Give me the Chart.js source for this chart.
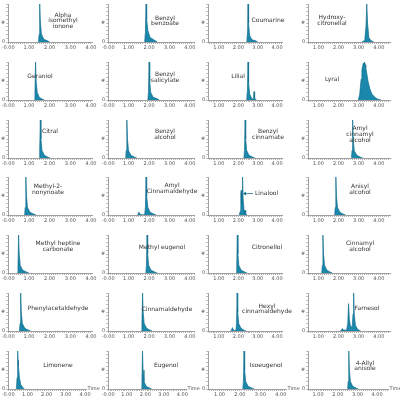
<!DOCTYPE html>
<html>
<head>
<meta charset="utf-8">
<script src="https://cdn.jsdelivr.net/npm/chart.js@4.4.0/dist/chart.umd.min.js"></script>
<style>
body { margin: 0; background: #fff; overflow: hidden; }
#grid { position: relative; width: 400px; height: 397px; overflow: hidden; }
#grid canvas { position: absolute; }
</style>
</head>
<body>
<div id="grid"></div>
<script>
// compound names, one panel each (row by row, 4 per row)
var labelLines = [
  ['Alpha', 'isomethyl', 'ionone'], ['Benzyl', 'benzoate'], ['Coumarine'], ['Hydroxy-', 'citronellal'],
  ['Geraniol'], ['Benzyl', 'salicylate'], ['Lilial'], ['Lyral'],
  ['Citral'], ['Benzyl', 'alcohol'], ['Benzyl', 'cinnamate'], ['Amyl', 'cinnamyl', 'alcohol'],
  ['Methyl-2-', 'nonynoate'], ['Amyl', 'Cinnamaldehyde'], ['Linalool'], ['Anisyl', 'alcohol'],
  ['Methyl heptine', 'carbonate'], ['Methyl eugenol'], ['Citronellol'], ['Cinnamyl', 'alcohol'],
  ['Phenylacetaldehyde'], ['Cinnamaldehyde'], ['Hexyl', 'cinnamaldehyde'], ['Farnesol'],
  ['Limonene'], ['Eugenol'], ['Isoeugenol'], ['4-Allyl', 'anisole']
];

// retention times (min) of each trace point
var peakTimes = [
  [1.46, 1.49, 1.52, 1.55, 1.6, 1.72, 1.9, 2.0],
  [1.78, 1.82, 1.85, 1.88, 1.94, 2.05, 2.25, 2.4],
  [2.44, 2.48, 2.5, 2.53, 2.58, 2.7, 2.9, 3.0],
  [3.15, 3.3, 3.36, 3.4, 3.44, 3.5, 3.6, 3.75],
  [1.26, 1.29, 1.32, 1.35, 1.4, 1.5, 1.65, 1.75],
  [1.94, 1.97, 2.0, 2.03, 2.08, 2.2, 2.4, 2.5],
  [2.43, 2.47, 2.5, 2.53, 2.59, 2.68, 2.76, 2.79, 2.81, 2.84, 2.92],
  [2.98, 3.05, 3.12, 3.16, 3.2, 3.23, 3.26, 3.29, 3.32, 3.35, 3.4, 3.46, 3.55, 3.65, 3.8, 3.95, 4.1],
  [1.49, 1.52, 1.55, 1.58, 1.63, 1.75, 1.92, 2.02],
  [0.85, 0.88, 0.91, 0.94, 0.99, 1.11, 1.3, 1.4],
  [2.29, 2.32, 2.35, 2.38, 2.43, 2.55, 2.75, 2.85],
  [2.64, 2.67, 2.7, 2.73, 2.78, 2.9, 3.1, 3.2],
  [0.79, 0.82, 0.85, 0.88, 0.93, 1.05, 1.25, 1.35],
  [1.44, 1.48, 1.5, 1.53, 1.6, 1.78, 1.82, 1.85, 1.88, 1.94, 2.05, 2.25, 2.35],
  [2.05, 2.1, 2.13, 2.15, 2.17, 2.2, 2.22, 2.25, 2.3, 2.33, 2.35, 2.38, 2.45],
  [1.81, 1.84, 1.87, 1.9, 1.95, 2.07, 2.25, 2.35],
  [0.44, 0.47, 0.5, 0.53, 0.58, 0.7, 0.9, 1.0],
  [1.84, 1.87, 1.9, 1.93, 1.98, 2.1, 2.3, 2.4],
  [1.89, 1.92, 1.95, 1.98, 2.03, 2.15, 2.35, 2.45],
  [1.17, 1.2, 1.23, 1.26, 1.31, 1.43, 1.6, 1.7],
  [0.54, 0.57, 0.6, 0.63, 0.68, 0.8, 0.98, 1.08],
  [1.62, 1.65, 1.68, 1.71, 1.76, 1.88, 2.05, 2.15],
  [1.62, 1.67, 1.7, 1.73, 1.8, 1.88, 1.91, 1.94, 1.97, 2.02, 2.14, 2.3, 2.4],
  [2.1, 2.16, 2.18, 2.2, 2.4, 2.46, 2.5, 2.54, 2.6, 2.68, 2.72, 2.75, 2.78, 2.84, 2.95, 3.1],
  [0.42, 0.46, 0.49, 0.51, 0.53, 0.58, 0.65, 0.75, 0.85],
  [1.79, 1.82, 1.85, 1.88, 1.93, 2.05, 2.25, 2.35],
  [2.14, 2.17, 2.2, 2.23, 2.28, 2.4, 2.6, 2.7],
  [2.5, 2.53, 2.56, 2.59, 2.64, 2.76, 2.95, 3.05]
];

// relative signal at those times
var peakHeights = [
  [0, 0.2, 1, 0.55, 0.22, 0.07, 0.03, 0],
  [0, 0.25, 1, 0.6, 0.3, 0.12, 0.05, 0],
  [0, 0.3, 1, 0.5, 0.18, 0.06, 0.03, 0],
  [0, 0.04, 0.4, 1, 0.5, 0.12, 0.04, 0],
  [0, 0.2, 1, 0.5, 0.2, 0.07, 0.02, 0],
  [0, 0.2, 1, 0.5, 0.2, 0.07, 0.03, 0],
  [0, 0.25, 1, 0.45, 0.15, 0.05, 0.02, 0.1, 0.22, 0.05, 0],
  [0, 0.15, 0.55, 0.8, 0.9, 0.97, 0.92, 1, 0.93, 0.85, 0.7, 0.5, 0.3, 0.16, 0.07, 0.02, 0],
  [0, 0.2, 1, 0.5, 0.2, 0.07, 0.02, 0],
  [0, 0.2, 1, 0.5, 0.2, 0.07, 0.02, 0],
  [0, 0.2, 1, 0.5, 0.2, 0.07, 0.02, 0],
  [0, 0.2, 1, 0.5, 0.2, 0.07, 0.02, 0],
  [0, 0.2, 1, 0.5, 0.2, 0.07, 0.02, 0],
  [0, 0.05, 0.08, 0.04, 0.01, 0, 0.2, 1, 0.5, 0.2, 0.07, 0.02, 0],
  [0, 0.1, 0.55, 0.65, 0.3, 0.6, 1, 0.4, 0.12, 0.05, 0.12, 0.03, 0],
  [0, 0.2, 1, 0.5, 0.2, 0.07, 0.02, 0],
  [0, 0.2, 1, 0.5, 0.2, 0.07, 0.02, 0],
  [0, 0.2, 1, 0.5, 0.2, 0.07, 0.02, 0],
  [0, 0.2, 1, 0.5, 0.2, 0.07, 0.02, 0],
  [0, 0.2, 1, 0.5, 0.2, 0.07, 0.02, 0],
  [0, 0.2, 1, 0.5, 0.2, 0.07, 0.02, 0],
  [0, 0.25, 1, 0.5, 0.2, 0.07, 0.02, 0],
  [0, 0.05, 0.09, 0.04, 0.01, 0.02, 0.2, 1, 0.5, 0.2, 0.07, 0.02, 0],
  [0, 0.04, 0.06, 0.03, 0.02, 0.2, 0.72, 0.3, 0.1, 0.12, 0.45, 1, 0.45, 0.15, 0.04, 0],
  [0, 0.3, 1, 0.75, 0.6, 0.3, 0.12, 0.04, 0],
  [0, 0.2, 1, 0.5, 0.2, 0.07, 0.02, 0],
  [0, 0.2, 1, 0.5, 0.2, 0.07, 0.02, 0],
  [0, 0.2, 1, 0.5, 0.2, 0.07, 0.02, 0]
];

// x range per column
var xMins = [-0.004, -0.004, 0.45, 0.5];
var xMaxs = [4.05, 4.2, 4.25, 4.55];

// label placement inside each panel (px)
var labelPos = [
  [63, 15], [65, 18], [68, 20.7], [32, 17.3],
  [40, 18.2], [65, 16.5], [38, 18.2], [32, 21],
  [50, 15.4], [65, 15.4], [68, 15.4], [60, 12.4],
  [48, 13.6], [72, 12.6], [55, 20.6], [60, 13.6],
  [58, 12.8], [62, 16.8], [67, 16.8], [60, 12.8],
  [58, 19], [67, 20.3], [67, 17], [67, 19],
  [58, 18.2], [66, 18.2], [66, 18.2], [65, 16]
];

var padRight = [8, 6, 18, 10];
var padRightLast = [14, 14, 14, 12];

var fillColor = '#1b87ab';
var lineColor = '#12708f';
var axisColor = '#888';
var font = 'DejaVu Sans';

var panelLabel = {
  id: 'panelLabel',
  afterDraw: function(chart, args, o) {
    var ctx = chart.ctx;
    ctx.save();
    ctx.font = '6px "' + font + '"';
    ctx.fillStyle = '#333';
    ctx.textBaseline = 'middle';
    ctx.textAlign = o.arrow ? 'left' : 'center';
    o.lines.forEach(function(t, i) {
      ctx.fillText(t, o.x, o.y + i * 5.8);
    });
    if (o.arrow) {
      ctx.strokeStyle = lineColor;
      ctx.fillStyle = lineColor;
      ctx.lineWidth = 0.8;
      ctx.beginPath();
      ctx.moveTo(o.x - 2, o.y);
      ctx.lineTo(o.x - 11, o.y);
      ctx.stroke();
      ctx.beginPath();
      ctx.moveTo(o.x - 12, o.y);
      ctx.lineTo(o.x - 9, o.y - 1.8);
      ctx.lineTo(o.x - 9, o.y + 1.8);
      ctx.closePath();
      ctx.fill();
    }
    if (o.timeLabel) {
      ctx.font = '5px "' + font + '"';
      ctx.fillStyle = '#555';
      ctx.textAlign = 'left';
      ctx.fillText('Time', chart.chartArea.right + 1.5, chart.chartArea.bottom);
    }
    ctx.restore();
  }
};

var grid = document.getElementById('grid');

labelLines.forEach(function(lines, i) {
  var col = i % 4, row = Math.floor(i / 4);
  var lastRow = row === 6;
  var cv = document.createElement('canvas');
  cv.width = 100;
  cv.height = 57;
  cv.style.left = (col * 100) + 'px';
  cv.style.top = (row * 57.8) + 'px';
  grid.appendChild(cv);

  var pts = peakTimes[i].map(function(t, j) { return { x: t, y: peakHeights[i][j] }; });
  var xmin = xMins[col], xmax = xMaxs[col];

  new Chart(cv, {
    type: 'line',
    data: {
      datasets: [{
        data: pts,
        fill: 'origin',
        backgroundColor: fillColor,
        borderColor: lineColor,
        borderWidth: 0.7,
        pointRadius: 0,
        tension: 0
      }]
    },
    plugins: [panelLabel],
    options: {
      responsive: false,
      animation: false,
      layout: { padding: { left: 0, right: lastRow ? padRightLast[col] : padRight[col], top: 0, bottom: 5 } },
      plugins: {
        legend: { display: false },
        tooltip: { enabled: false },
        panelLabel: {
          lines: lines,
          x: labelPos[i][0],
          y: labelPos[i][1],
          arrow: i === 14,
          timeLabel: lastRow
        }
      },
      scales: {
        x: {
          type: 'linear',
          min: xmin,
          max: xmax,
          afterBuildTicks: function(s) {
            var t = [];
            if (xmin < 0) t.push({ value: xmin });
            for (var k = Math.ceil(Math.max(xmin, 0) * 10); k <= Math.floor(xmax * 10); k++) {
              if (k === 0 && xmin < 0) continue;
              t.push({ value: k / 10 });
            }
            s.ticks = t;
          },
          ticks: {
            autoSkip: false,
            maxRotation: 0,
            padding: 1,
            color: '#555',
            font: { family: font, size: 5 },
            callback: function(v) {
              if (v < 0) return '-0.00';
              if (Math.abs(v - Math.round(v)) < 1e-6) return v.toFixed(2);
              return '';
            }
          },
          grid: { drawOnChartArea: false, tickLength: 2, tickColor: axisColor, tickWidth: 0.6 },
          border: { color: axisColor, width: 0.8 }
        },
        y: {
          min: 0,
          max: 1,
          afterBuildTicks: function(s) {
            var t = [];
            for (var k = 0; k <= 10; k++) t.push({ value: k / 10 });
            s.ticks = t;
          },
          ticks: {
            autoSkip: false,
            padding: 1,
            color: '#555',
            font: { family: font, size: 5 },
            callback: function(v) {
              if (v === 0) return '0';
              if (Math.abs(v - 0.5) < 1e-6) return '#';
              return '';
            }
          },
          grid: { drawOnChartArea: false, tickLength: 2, tickColor: axisColor, tickWidth: 0.6 },
          border: { color: axisColor, width: 0.8 }
        }
      }
    }
  });
});
</script>
</body>
</html>
